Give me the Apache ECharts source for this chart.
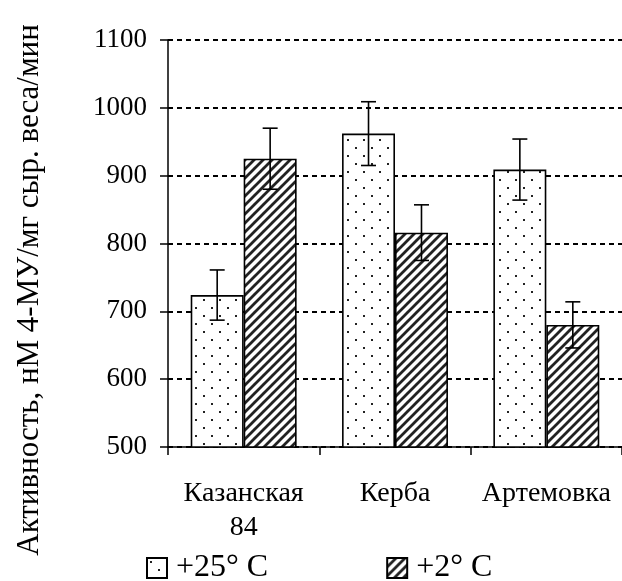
<!DOCTYPE html>
<html>
<head>
<meta charset="utf-8">
<script src="https://cdn.jsdelivr.net/npm/echarts@6/dist/echarts.min.js"></script>
<style>
  html, body { margin: 0; padding: 0; background: #fff; }
  #chart { width: 622px; height: 581px; }
</style>
</head>
<body>
<div id="chart"></div>
<script>
// данные
const categories = ['Казанская\n84', 'Керба', 'Артемовка'];
const seriesNames = ['+25° C', '+2° C'];
const warmValues = [724, 962, 909];
const warmErr = [37, 47, 45];
const coldValues = [925, 816, 680];
const coldErr = [45, 41, 34];
const yTicks = [500, 600, 700, 800, 900, 1000, 1100];
const yTitle = 'Активность, нМ 4-МУ/мг сыр. веса/мин';

// узоры заливки
function dotPattern() {
    const c = document.createElement('canvas');
    c.width = 16; c.height = 16;
    const ctx = c.getContext('2d');
    ctx.fillStyle = '#fff';
    ctx.fillRect(0, 0, 16, 16);
    ctx.fillStyle = '#222';
    ctx.fillRect(3, 3, 2, 2);
    ctx.fillRect(11, 11, 2, 2);
    return c;
}
function hatchPattern() {
    const s = 9;
    const c = document.createElement('canvas');
    c.width = s; c.height = s;
    const ctx = c.getContext('2d');
    ctx.fillStyle = '#fff';
    ctx.fillRect(0, 0, s, s);
    ctx.strokeStyle = '#222';
    ctx.lineWidth = 2.8;
    ctx.beginPath();
    ctx.moveTo(-1, s + 1); ctx.lineTo(s + 1, -1);
    ctx.moveTo(-1, 1); ctx.lineTo(1, -1);
    ctx.moveTo(s - 1, s + 1); ctx.lineTo(s + 1, s - 1);
    ctx.stroke();
    return c;
}

const font = 'Liberation Serif';
const myChart = echarts.init(document.getElementById('chart'));

// усы погрешностей
function errorSeries(values, errs, side) {
    return {
        type: 'custom',
        z: 10,
        silent: true,
        encode: { x: 0, y: [1, 2] },
        data: values.map((v, i) => [i, v - errs[i], v + errs[i]]),
        renderItem: function (params, api) {
            const bw = api.size([1, 0])[0];
            const off = side * 0.175 * bw;
            const lo = api.coord([api.value(0), api.value(1)]);
            const hi = api.coord([api.value(0), api.value(2)]);
            const x = lo[0] + off;
            const cap = 7.5;
            const style = { stroke: '#000', lineWidth: 1.6 };
            return {
                type: 'group',
                children: [
                    { type: 'line', shape: { x1: x, y1: lo[1], x2: x, y2: hi[1] }, style: style },
                    { type: 'line', shape: { x1: x - cap, y1: lo[1], x2: x + cap, y2: lo[1] }, style: style },
                    { type: 'line', shape: { x1: x - cap, y1: hi[1], x2: x + cap, y2: hi[1] }, style: style }
                ]
            };
        }
    };
}

const option = {
    animation: false,
    grid: { left: 168, top: 40, right: 0, bottom: 134 },
    graphic: [{
        type: 'text',
        x: 30,
        y: 290,
        rotation: Math.PI / 2,
        style: {
            text: yTitle,
            fontFamily: font,
            fontSize: 31,
            fill: '#000',
            align: 'center',
            verticalAlign: 'middle'
        }
    }],
    legend: {
        data: seriesNames,
        left: 141,
        top: 547,
        itemWidth: 20,
        itemHeight: 20,
        itemGap: 118,
        icon: 'rect',
        textStyle: { fontFamily: font, fontSize: 32, color: '#000', padding: [0, 0, 0, 4] }
    },
    xAxis: {
        type: 'category',
        data: categories,
        axisLine: { lineStyle: { color: '#000', width: 1.5 } },
        axisTick: { show: true, length: 8, lineStyle: { color: '#000', width: 1.5 } },
        axisLabel: { interval: 0, fontFamily: font, fontSize: 28, color: '#000', margin: 30, lineHeight: 34 }
    },
    yAxis: {
        type: 'value',
        min: 500,
        max: 1100,
        interval: 100,
        axisLine: { show: true, lineStyle: { color: '#000', width: 1.5 } },
        axisTick: { show: true, length: 8, lineStyle: { color: '#000', width: 1.5 } },
        axisLabel: { fontFamily: font, fontSize: 27, color: '#000', margin: 21,
            formatter: v => yTicks.indexOf(v) >= 0 ? String(v) : '' },
        splitLine: { show: true, lineStyle: { color: '#000', width: 2, type: [5, 4] } }
    },
    series: [
        {
            name: seriesNames[0],
            type: 'bar',
            data: warmValues,
            barGap: 0,
            barCategoryGap: '30%',
            itemStyle: { color: { image: dotPattern(), repeat: 'repeat' }, borderColor: '#000', borderWidth: 1.6 }
        },
        {
            name: seriesNames[1],
            type: 'bar',
            data: coldValues,
            barGap: 0,
            barCategoryGap: '30%',
            itemStyle: { color: { image: hatchPattern(), repeat: 'repeat' }, borderColor: '#000', borderWidth: 1.6 }
        },
        errorSeries(warmValues, warmErr, -1),
        errorSeries(coldValues, coldErr, 1)
    ]
};

myChart.setOption(option);
</script>
</body>
</html>
